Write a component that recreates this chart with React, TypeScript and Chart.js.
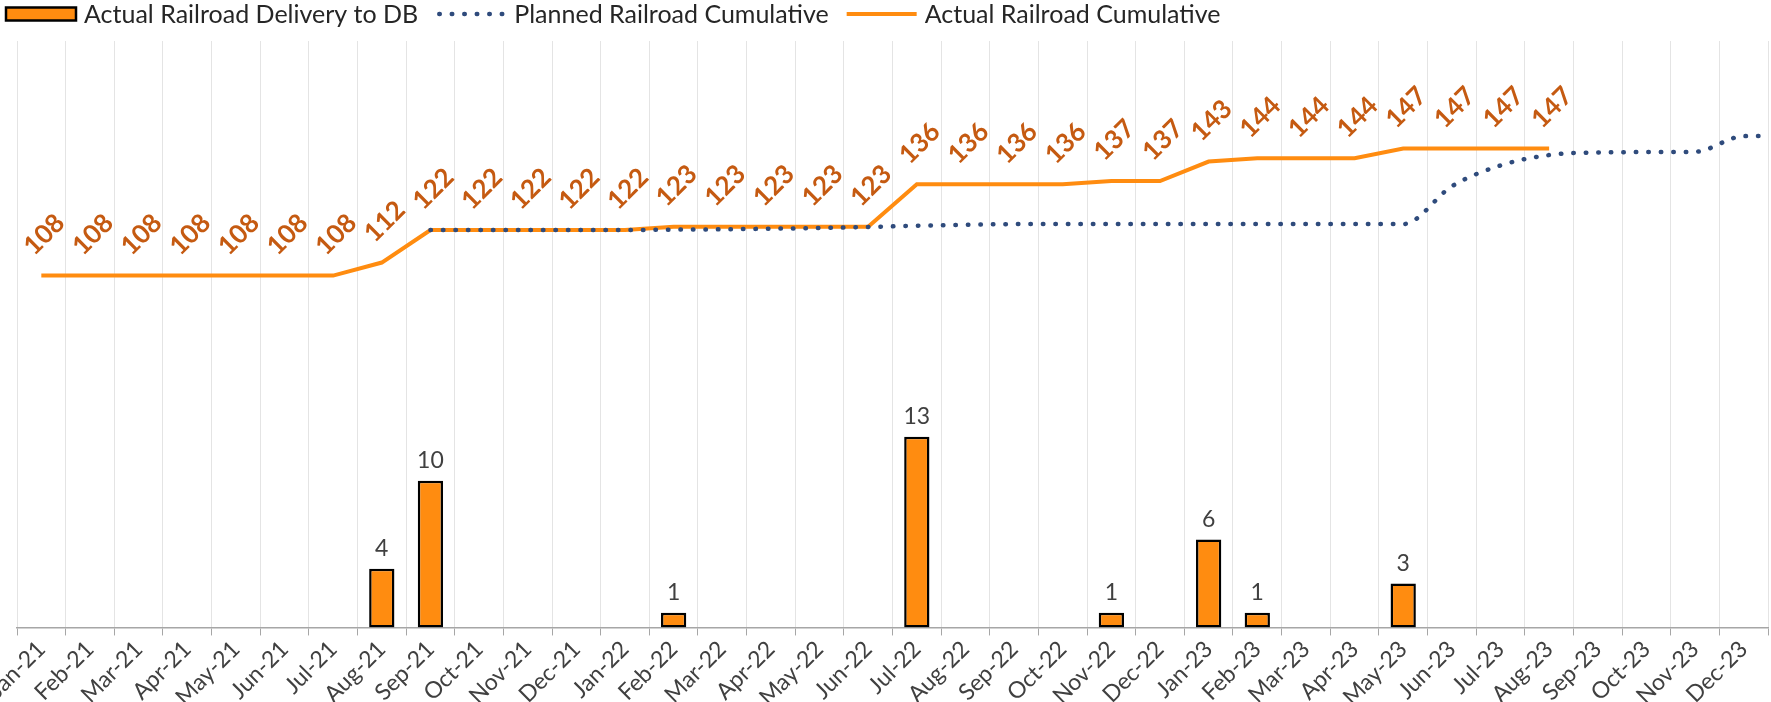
import React, { useEffect, useRef } from 'react';
import Chart from 'chart.js/auto';

const FONT = 'Lato, "Open Sans", sans-serif';

const months = [
  'Jan-21', 'Feb-21', 'Mar-21', 'Apr-21', 'May-21', 'Jun-21', 'Jul-21', 'Aug-21', 'Sep-21', 'Oct-21', 'Nov-21', 'Dec-21',
  'Jan-22', 'Feb-22', 'Mar-22', 'Apr-22', 'May-22', 'Jun-22', 'Jul-22', 'Aug-22', 'Sep-22', 'Oct-22', 'Nov-22', 'Dec-22',
  'Jan-23', 'Feb-23', 'Mar-23', 'Apr-23', 'May-23', 'Jun-23', 'Jul-23', 'Aug-23', 'Sep-23', 'Oct-23', 'Nov-23', 'Dec-23',
];

const deliveries = [
  0, 0, 0, 0, 0, 0, 0, 4, 10, 0, 0, 0,
  0, 1, 0, 0, 0, 0, 13, 0, 0, 0, 1, 0,
  6, 1, 0, 0, 3, 0, 0, 0, 0, 0, 0, 0,
];

const actualCumulative: (number | null)[] = [
  108, 108, 108, 108, 108, 108, 108, 112, 122, 122, 122, 122,
  122, 123, 123, 123, 123, 123, 136, 136, 136, 136, 137, 137,
  143, 144, 144, 144, 147, 147, 147, 147, null, null, null, null,
];

const plannedCumulative: (number | null)[] = [
  null, null, null, null, null, null, null, null, 122, 122, 122, 122,
  122, 122.1, 122.2, 122.4, 122.6, 122.9, 123.3, 123.6, 123.8, 123.8, 123.8, 123.8,
  123.8, 123.8, 123.8, 123.8, 123.8, 135.4, 141.8, 145.0, 145.8, 145.9, 146.0, 150.8,
];
// the planned series continues one month past the axis end (clipped at the plot edge)
const plannedNextMonth = 'Jan-24';
const plannedNextValue = 150.9;

const seriesNames = ['Actual Railroad Delivery to DB', 'Planned Railroad Cumulative', 'Actual Railroad Cumulative'];

const ORANGE = '#FF8C10';
const LABEL_ORANGE = '#C55A11';
const NAVY = '#2F4B7C';
const TEXT = '#404040';

const valueLabelsPlugin = {
  id: 'valueLabels',
  afterDatasetsDraw(chart: any) {
    const ctx = chart.ctx;
    ctx.save();
    const lm = chart.getDatasetMeta(2);
    ctx.fillStyle = LABEL_ORANGE;
    ctx.font = `bold 26px ${FONT}`;
    ctx.textAlign = 'center';
    ctx.textBaseline = 'middle';
    lm.data.forEach((pt: any, i: number) => {
      const v = (lm._parsed[i] || {}).y;
      if (v == null) return;
      ctx.save();
      ctx.translate(pt.x + 3, pt.y - 41);
      ctx.rotate(-Math.PI / 4);
      ctx.fillText(String(v), 0, 0);
      ctx.restore();
    });
    const bm = chart.getDatasetMeta(0);
    ctx.fillStyle = TEXT;
    ctx.font = `23px ${FONT}`;
    bm.data.forEach((bar: any, i: number) => {
      const v = deliveries[i];
      if (!v) return;
      ctx.fillText(String(v), bar.x, bar.y - 20);
    });
    ctx.restore();
  },
};

const legendPlugin = {
  id: 'customLegend',
  afterDraw(chart: any) {
    const ctx = chart.ctx;
    ctx.save();
    ctx.font = `25px ${FONT}`;
    ctx.textBaseline = 'middle';
    ctx.textAlign = 'left';
    const y = 14;
    let x = 6;
    const symW = 70;
    seriesNames.forEach((name, i) => {
      if (i === 0) {
        ctx.fillStyle = ORANGE;
        ctx.strokeStyle = '#000';
        ctx.lineWidth = 2.5;
        ctx.fillRect(x, y - 6.5, symW, 13);
        ctx.strokeRect(x, y - 6.5, symW, 13);
      } else if (i === 1) {
        ctx.strokeStyle = NAVY;
        ctx.lineWidth = 4.5;
        ctx.lineCap = 'round';
        ctx.setLineDash([0.5, 12]);
        ctx.beginPath();
        ctx.moveTo(x + 3, y);
        ctx.lineTo(x + symW, y);
        ctx.stroke();
        ctx.setLineDash([]);
        ctx.lineCap = 'butt';
      } else {
        ctx.strokeStyle = ORANGE;
        ctx.lineWidth = 4;
        ctx.beginPath();
        ctx.moveTo(x, y);
        ctx.lineTo(x + symW, y);
        ctx.stroke();
      }
      const tx = x + symW + 8;
      ctx.fillStyle = '#262626';
      ctx.fillText(name, tx, y + 1);
      x = tx + ctx.measureText(name).width + 18;
    });
    ctx.restore();
  },
};

export default function App() {
  const ref = useRef<HTMLCanvasElement | null>(null);
  useEffect(() => {
    document.body.style.margin = '0';
    if (!ref.current) return;
    const toPoints = (arr: (number | null)[]) => {
      const pts: { x: number; y: number }[] = [];
      arr.forEach((v, i) => {
        if (v != null) pts.push({ x: i, y: v });
      });
      return pts;
    };
    const plannedPoints = toPoints(plannedCumulative);
    plannedPoints.push({ x: months.length, y: plannedNextValue });
    void plannedNextMonth;
    const actualPoints = toPoints(actualCumulative);

    const chart = new Chart(ref.current, {
      type: 'bar',
      data: {
        labels: months,
        datasets: [
          {
            type: 'bar',
            label: seriesNames[0],
            data: deliveries.map((v) => (v ? v : null)),
            backgroundColor: ORANGE,
            borderColor: '#000',
            borderWidth: 2.5,
            borderSkipped: false,
            grouped: false,
            barPercentage: 0.52,
            categoryPercentage: 1,
            xAxisID: 'x',
            yAxisID: 'y',
          } as any,
          {
            type: 'line',
            label: seriesNames[1],
            data: plannedPoints as any,
            borderColor: NAVY,
            borderWidth: 4.5,
            borderDash: [0.5, 12],
            borderCapStyle: 'round',
            pointRadius: 0,
            cubicInterpolationMode: 'monotone',
            fill: false,
            xAxisID: 'xp',
            yAxisID: 'y1',
          } as any,
          {
            type: 'line',
            label: seriesNames[2],
            data: actualPoints as any,
            borderColor: ORANGE,
            borderWidth: 4,
            pointRadius: 0,
            tension: 0,
            fill: false,
            xAxisID: 'xp',
            yAxisID: 'y1',
          } as any,
        ],
      },
      options: {
        animation: false,
        responsive: false,
        devicePixelRatio: 1,
        layout: { padding: { top: 41, left: 17, right: 3, bottom: -9 } },
        plugins: {
          legend: { display: false },
          tooltip: { enabled: false },
        },
        scales: {
          x: {
            type: 'category',
            offset: true,
            afterFit: (s: any) => {
              s.paddingLeft = 0;
              s.paddingRight = 0;
            },
            grid: {
              offset: true,
              color: '#E4E4E4',
              lineWidth: 1,
              drawTicks: true,
              tickLength: 8,
              tickColor: '#A6A6A6',
            },
            border: { color: '#A6A6A6', width: 1.5 },
            ticks: {
              autoSkip: false,
              minRotation: 45,
              maxRotation: 45,
              color: TEXT,
              font: { family: FONT, size: 23 },
              padding: 0,
            },
          } as any,
          xp: {
            type: 'linear',
            display: false,
            offset: false,
            grid: { offset: false },
            min: -0.5,
            max: months.length - 0.5,
          },
          y: { display: false, min: 0, max: 40 },
          y1: { display: false, min: 0, max: 180, position: 'right' },
        },
      },
      plugins: [valueLabelsPlugin, legendPlugin],
    });
    return () => chart.destroy();
  }, []);
  return (
    <div style={{ width: 1771, height: 702, background: '#fff' }}>
      <canvas ref={ref} width={1771} height={702} style={{ display: 'block' }} />
    </div>
  );
}
